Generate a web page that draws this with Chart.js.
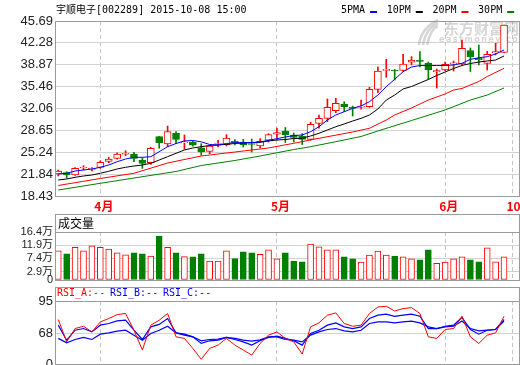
<!DOCTYPE html>
<html>
<head>
<meta charset="utf-8">
<title>宇顺电子 002289</title>
<script src="https://cdn.jsdelivr.net/npm/chart.js@4/dist/chart.umd.min.js"></script>
<style>
  html, body { margin: 0; padding: 0; background: #fff; }
  #wrap { position: relative; width: 520px; height: 365px; overflow: hidden; }
  #wrap canvas { position: absolute; left: 0; }
</style>
</head>
<body>
<div id="wrap">
  <canvas id="kline" width="520" height="214" style="top:0"></canvas>
  <canvas id="volume" width="520" height="73" style="top:214px"></canvas>
  <canvas id="rsi" width="520" height="84" style="top:287px"></canvas>
</div>
<script>
// daily candles 2015-03-25 .. 2015-10-08
const opens  = [21.86, 22.09, 21.70, 22.79, 22.56, 22.90, 23.80, 24.30, 24.93, 24.93,
                24.04, 23.62, 27.67, 26.53, 28.19, 26.69, 26.84, 25.95, 25.39, 26.45,
                26.42, 26.95, 26.84, 26.58, 26.22, 27.11, 28.05, 28.50, 27.93, 27.78,
                27.26, 29.75, 30.53, 31.72, 32.76, 32.25, 32.25, 32.34, 35.05, 37.98,
                38.06, 37.98, 39.26, 39.62, 39.15, 37.75, 38.06, 39.00, 39.00, 41.09,
                39.88, 39.10, 40.71, 40.78];
const closes = [22.32, 21.70, 22.74, 22.95, 22.74, 23.68, 24.19, 24.97, 25.05, 24.30,
                23.52, 25.86, 26.73, 28.45, 27.26, 26.87, 26.33, 25.28, 26.22, 26.60,
                27.47, 26.73, 26.37, 26.45, 26.95, 27.98, 28.29, 27.98, 27.54, 27.26,
                29.60, 30.53, 32.25, 32.87, 32.34, 32.09, 32.45, 35.05, 37.90, 38.17,
                37.90, 38.97, 39.62, 39.39, 38.06, 37.98, 38.94, 39.15, 41.44, 40.08,
                39.62, 40.50, 40.91, 45.07];
const highs  = [22.48, 22.20, 22.84, 23.15, 22.87, 23.93, 24.46, 25.17, 25.49, 25.24,
                24.40, 26.02, 27.70, 29.33, 28.45, 27.93, 26.95, 26.58, 26.33, 27.11,
                27.98, 27.23, 27.26, 27.31, 27.36, 28.14, 29.02, 29.10, 28.24, 28.14,
                29.91, 31.05, 33.54, 33.65, 33.12, 32.45, 33.38, 35.36, 38.57, 39.72,
                38.14, 40.50, 40.14, 40.91, 39.30, 38.21, 39.30, 39.46, 42.73, 41.48,
                41.95, 40.97, 42.22, 45.07];
const lows   = [21.55, 21.23, 21.62, 22.48, 22.32, 22.74, 23.62, 24.15, 24.71, 23.77,
                22.74, 23.37, 25.86, 26.11, 26.63, 25.70, 26.20, 24.77, 25.02, 26.06,
                26.22, 26.37, 26.06, 25.28, 25.91, 26.84, 27.15, 26.76, 26.84, 26.45,
                27.15, 28.98, 30.00, 31.41, 31.56, 30.89, 31.94, 32.25, 34.52, 36.92,
                36.50, 37.82, 38.84, 38.52, 36.65, 35.25, 37.95, 37.90, 38.84, 37.82,
                38.84, 38.06, 40.40, 40.75];
// volume, 万股
const volumes = [10.0, 8.9, 11.2, 10.0, 11.7, 11.2, 10.6, 9.3, 8.6, 9.3,
                 8.9, 8.2, 14.9, 11.2, 9.3, 8.0, 7.9, 8.9, 6.5, 6.5,
                 10.0, 7.3, 9.6, 9.3, 8.8, 10.3, 7.2, 9.3, 6.5, 6.2,
                 12.3, 11.3, 10.3, 10.3, 7.9, 7.2, 6.1, 8.5, 9.9, 8.5,
                 8.2, 7.9, 7.2, 6.9, 10.3, 5.7, 6.1, 7.2, 7.9, 6.9,
                 6.2, 11.0, 6.2, 7.9];

// moving averages as drawn
const ma5  = [21.86, 21.97, 22.32, 22.48, 22.64, 22.90, 23.26, 23.77, 24.19, 24.46,
              24.46, 24.55, 25.33, 26.11, 26.61, 27.00, 27.08, 26.87, 26.45, 26.37,
              26.61, 26.73, 26.73, 26.76, 26.84, 27.11, 27.36, 27.62, 27.85, 27.93,
              28.45, 29.22, 30.27, 31.05, 31.56, 32.09, 32.45, 33.12, 34.16, 35.46,
              36.61, 37.79, 38.52, 38.76, 38.76, 38.76, 38.76, 38.84, 39.10, 39.72,
              39.97, 40.13, 40.55, 41.17];
const ma10 = [20.92, 21.08, 21.34, 21.55, 21.70, 21.97, 22.28, 22.64, 22.90, 23.10,
              23.26, 23.52, 24.04, 24.55, 25.08, 25.60, 25.91, 26.11, 26.30, 26.37,
              26.48, 26.61, 26.69, 26.76, 26.79, 27.00, 27.15, 27.23, 27.39, 27.42,
              27.78, 28.20, 28.71, 29.22, 29.65, 30.11, 30.53, 31.05, 31.98, 33.38,
              34.16, 35.10, 35.49, 36.03, 36.58, 37.20, 37.75, 38.29, 38.76, 39.07,
              39.30, 39.46, 39.61, 40.24];
const ma20Days = [0, 5, 9, 13, 17, 21, 25, 28, 31, 35, 37, 39, 40, 42, 44, 46, 47, 48, 50, 51, 53];
const ma20     = [20.07, 21.16, 21.97, 23.57, 24.66, 25.28, 25.91, 26.64, 27.42, 28.40, 28.98,
                  30.27, 31.05, 32.14, 33.38, 34.32, 34.94, 35.18, 36.27, 37.04, 38.32];
const ma30Days = [0, 5, 14, 17, 21, 24, 28, 30, 33, 36, 38, 42, 46, 49, 51, 53];
const ma30     = [19.36, 20.41, 22.25, 23.18, 23.96, 24.66, 25.67, 26.11, 26.89, 27.70,
                  28.56, 30.19, 31.83, 33.38, 34.16, 35.25];

const rsiA = [79.6, 61.0, 72.1, 74.0, 69.3, 77.6, 80.4, 83.7, 84.6, 70.7,
              54.2, 74.9, 79.0, 84.6, 65.2, 63.9, 55.6, 46.5, 55.6, 58.3,
              63.9, 58.3, 54.2, 50.0, 59.7, 66.6, 69.3, 63.9, 61.0, 50.9,
              73.5, 76.8, 83.2, 85.1, 76.3, 74.0, 74.9, 84.6, 90.0, 90.6,
              86.7, 88.7, 89.5, 84.6, 65.2, 63.9, 71.3, 72.1, 82.3, 65.2,
              59.7, 66.6, 68.5, 82.3];
const rsiB = [74.9, 62.4, 70.7, 72.1, 69.3, 74.9, 76.3, 78.4, 79.0, 70.7,
              63.0, 73.5, 75.5, 80.4, 68.5, 67.4, 65.2, 59.7, 61.9, 62.4,
              64.7, 63.0, 61.0, 58.3, 62.0, 64.7, 65.8, 63.9, 61.9, 58.3,
              68.0, 70.7, 74.9, 76.8, 73.5, 72.1, 73.5, 80.4, 83.2, 84.0,
              82.3, 83.2, 84.0, 82.3, 72.1, 72.1, 74.0, 74.9, 81.3, 71.3,
              67.4, 70.7, 71.3, 79.6];
const rsiC = [63.9, 60.2, 63.0, 64.7, 63.0, 67.4, 68.5, 69.9, 70.7, 66.6,
              62.4, 68.0, 70.7, 74.0, 68.5, 66.6, 65.2, 61.9, 63.0, 63.3,
              64.7, 63.9, 62.4, 61.6, 62.7, 65.2, 65.2, 63.0, 62.4, 61.0,
              66.6, 69.3, 71.3, 72.1, 70.2, 69.3, 70.7, 76.3, 77.6, 77.6,
              76.8, 77.6, 78.2, 76.8, 73.5, 72.1, 73.5, 74.0, 78.4, 72.1,
              70.2, 70.7, 71.3, 78.4];

const priceTicks = [18.43, 21.84, 25.24, 28.65, 32.06, 35.46, 38.87, 42.28, 45.69];
const volumeTicks = [0, 2.9, 7.4, 11.9, 16.4];
const rsiTicks = [42.6, 68, 95];
const rsiTickLabels = ['0', '68', '95'];
const monthTickDays = [5, 26, 46, 54];
const monthLabels = ['4月', '5月', '6月', '10月'];

const title = '宇顺电子[002289] 2015-10-08 15:00';
const maNames = ['5PMA', '10PM', '20PM', '30PM'];
const rsiNames = ['RSI_A:--', 'RSI_B:--', 'RSI_C:--'];

const RED = '#ff0000', GREEN = '#008000', BLUE = '#0000ff', BLACK = '#000000';
const NUM_FONT = "'Liberation Sans', 'Noto Sans CJK SC', sans-serif";
const MONO = "'DejaVu Sans Mono', 'Noto Sans CJK SC', monospace";
const CJK = "'Noto Sans CJK SC', sans-serif";

const days = opens.map((_, i) => i);
const up = opens.map((o, i) => closes[i] >= o);
const X_MIN = -0.27, X_MAX = 54.78;

function pts(xs, ys) { return ys.map((y, i) => ({ x: xs[i], y })); }

function drawWatermark(ctx) {
  ctx.save();
  ctx.fillStyle = 'rgba(130,130,130,0.33)';
  ctx.strokeStyle = 'rgba(130,130,130,0.33)';
  ctx.textBaseline = 'middle';
  ctx.font = 'bold 15px ' + CJK;
  ctx.fillText('东方财富网', 444, 28);
  ctx.font = "bold 8px 'DejaVu Sans'";
  if ('letterSpacing' in ctx) ctx.letterSpacing = '1.5px';
  ctx.fillText('eastmoney.com', 439, 40);
  ctx.lineWidth = 2.5;
  for (let k = 0; k < 3; k++) {
    ctx.beginPath();
    ctx.moveTo(419 + k * 4, 45);
    ctx.quadraticCurveTo(421 + k * 5, 28, 438, 20 + k * 3);
    ctx.stroke();
  }
  ctx.restore();
}

// frame, header line and the texts of each panel
const panel = {
  id: 'panel',
  beforeDatasetsDraw(chart, args, o) {
    if (o.watermark) drawWatermark(chart.ctx);
  },
  afterDraw(chart, args, o) {
    const { ctx, chartArea: a } = chart;
    const x0 = Math.round(a.left) - 0.5, x1 = Math.round(a.right) + 0.5;
    const yTop = (o.boxTop === undefined ? Math.round(a.top) : o.boxTop) + 0.5;
    const yBot = Math.round(a.bottom) + 0.5;
    ctx.save();
    ctx.strokeStyle = '#9a9a9a';
    ctx.lineWidth = 1;
    ctx.strokeRect(x0, yTop, x1 - x0, yBot - yTop);
    if (o.boxTop !== undefined) {
      ctx.beginPath();
      ctx.moveTo(x0, Math.round(a.top) + 0.5);
      ctx.lineTo(x1, Math.round(a.top) + 0.5);
      ctx.stroke();
    }
    ctx.textBaseline = 'middle';
    (o.texts || []).forEach(t => {
      ctx.font = t.font;
      ctx.fillStyle = t.color;
      ctx.fillText(t.text, t.x, t.y);
    });
    if (o.legend) {
      const L = o.legend;
      L.names.forEach((name, i) => {
        const x = L.x + i * L.step;
        ctx.font = L.font;
        ctx.fillStyle = BLACK;
        ctx.fillText(name, x, L.y);
        const w = ctx.measureText(name).width;
        ctx.strokeStyle = L.colors[i];
        ctx.lineWidth = 2;
        ctx.beginPath();
        ctx.moveTo(x + w + 5, L.y + 2);
        ctx.lineTo(x + w + 12, L.y + 2);
        ctx.stroke();
      });
    }
    ctx.restore();
  }
};

function xAxis(withLabels) {
  return {
    type: 'linear', min: X_MIN, max: X_MAX, offset: false,
    afterBuildTicks: s => { s.ticks = monthTickDays.map(v => ({ value: v })); },
    afterFit: s => { s.height = withLabels ? 18 : 0; s.paddingLeft = 0; s.paddingRight = 0; },
    grid: { offset: false, color: '#c4c4c4', drawTicks: false },
    border: { display: false, dash: [4, 3] },
    ticks: {
      display: withLabels, autoSkip: false, maxRotation: 0, align: 'start', labelOffset: -6,
      padding: 3, color: RED, font: { family: CJK, size: 12, weight: 'bold' },
      callback: (v, i) => monthLabels[i]
    }
  };
}

function yAxis(ticks, label, size) {
  return {
    min: ticks[0], max: ticks[ticks.length - 1],
    afterBuildTicks: s => { s.ticks = ticks.map(v => ({ value: v })); },
    afterFit: s => { s.width = 56; s.paddingTop = 0; s.paddingBottom = 0; },
    grid: { color: '#d2d2d2', drawTicks: false },
    border: { display: false },
    ticks: { autoSkip: false, padding: 3, color: '#222', font: { family: NUM_FONT, size }, callback: (v, i) => label(v, i) }
  };
}

function line(data, color, width) {
  return { type: 'line', data, borderColor: color, borderWidth: width || 1,
           pointRadius: 0, tension: 0, fill: false, order: 0 };
}

const base = {
  responsive: false, devicePixelRatio: 1, animation: false,
};

new Chart(document.getElementById('kline'), {
  type: 'bar',
  data: {
    datasets: [
      line(pts(days, ma5), BLUE),
      line(pts(days, ma10), BLACK),
      line(pts(ma20Days, ma20), RED),
      line(pts(ma30Days, ma30), GREEN),
      {
        data: pts(days, opens.map((o, i) => [o, closes[i]])),
        backgroundColor: up.map(u => u ? '#ffffff' : GREEN),
        borderColor: up.map(u => u ? RED : GREEN),
        borderWidth: 1, borderSkipped: false, barThickness: 7, minBarLength: 1,
        grouped: false, order: 1
      },
      {
        data: pts(days, lows.map((l, i) => [l, highs[i]])),
        backgroundColor: up.map(u => u ? RED : GREEN),
        barThickness: 1, grouped: false, order: 2
      }
    ]
  },
  options: {
    ...base,
    layout: { padding: { top: 21, right: 1, left: 0, bottom: 0 } },
    plugins: {
      legend: { display: false }, tooltip: { enabled: false },
      panel: {
        watermark: true,
        texts: [{ text: title, x: 56, y: 10, color: BLACK, font: '10px ' + MONO }],
        legend: { names: maNames, colors: [BLUE, BLACK, RED, GREEN], x: 341, step: 45.7, y: 10, font: '10px ' + MONO }
      }
    },
    scales: {
      x: xAxis(true),
      y: yAxis(priceTicks, v => v.toFixed(2), 13)
    }
  },
  plugins: [panel]
});

new Chart(document.getElementById('volume'), {
  type: 'bar',
  data: {
    datasets: [{
      data: pts(days, volumes),
      backgroundColor: up.map(u => u ? '#ffffff' : GREEN),
      borderColor: up.map(u => u ? RED : GREEN),
      borderWidth: 1, borderSkipped: false, barThickness: 6, grouped: false
    }]
  },
  options: {
    ...base,
    layout: { padding: { top: 18, right: 1, left: 0, bottom: 7 } },
    plugins: {
      legend: { display: false }, tooltip: { enabled: false },
      panel: {
        boxTop: 0,
        texts: [{ text: '成交量', x: 58, y: 9, color: BLACK, font: '12px ' + CJK }]
      }
    },
    scales: {
      x: xAxis(false),
      y: yAxis(volumeTicks, v => v === 0 ? '0' : v + '万', 11)
    }
  },
  plugins: [panel]
});

new Chart(document.getElementById('rsi'), {
  type: 'line',
  data: {
    datasets: [
      line(pts(days, rsiA), RED),
      line(pts(days, rsiB), BLUE, 1.2),
      line(pts(days, rsiC), BLUE, 1.2)
    ]
  },
  options: {
    ...base,
    layout: { padding: { top: 14, right: 1, left: 0, bottom: 7 } },
    plugins: {
      legend: { display: false }, tooltip: { enabled: false },
      panel: {
        boxTop: 0,
        texts: rsiNames.map((t, i) => ({ text: t, x: 57 + i * 53, y: 6, color: i === 0 ? RED : BLUE, font: '10px ' + MONO }))
      }
    },
    scales: {
      x: xAxis(false),
      y: yAxis(rsiTicks, (v, i) => rsiTickLabels[i], 13)
    }
  },
  plugins: [panel]
});
</script>
</body>
</html>
